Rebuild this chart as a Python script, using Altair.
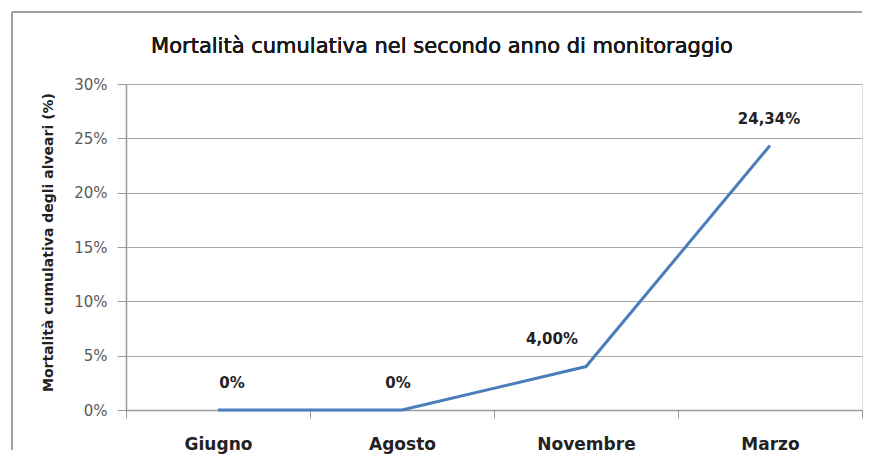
import altair as alt
import pandas as pd

months = ["Giugno", "Agosto", "Novembre", "Marzo"]
mortality = [0.0, 0.0, 4.00, 24.34]
labels = ["0%", "0%", "4,00%", "24,34%"]
y_ticks = [0, 5, 10, 15, 20, 25, 30]

title_text = "Mortalità cumulativa nel secondo anno di monitoraggio"
y_title = "Mortalità cumulativa degli alveari (%)"

df = pd.DataFrame({"mese": months, "valore": mortality, "etichetta": labels})

FONT = "DejaVu Sans"
W, H = 736, 326

x_enc = alt.X(
    "mese:N",
    sort=months,
    scale=alt.Scale(paddingInner=0, paddingOuter=0),
    axis=alt.Axis(
        title=None,
        tickBand="extent",
        tickSize=8,
        tickColor="#9a9a9a",
        domainColor="#9a9a9a",
        domainWidth=1.5,
        labelPadding=18,
        labelFont=FONT,
        labelFontSize=17,
        labelFontWeight="bold",
        labelColor="#222222",
        labelAngle=0,
        grid=False,
    ),
)
y_enc = alt.Y(
    "valore:Q",
    scale=alt.Scale(domain=[0, 30], nice=False),
    axis=alt.Axis(
        values=y_ticks,
        labelExpr="datum.value + '%'",
        tickSize=9,
        tickColor="#9a9a9a",
        domainColor="#9a9a9a",
        domainWidth=1.5,
        gridColor="#a8a8a8",
        gridWidth=1.2,
        labelPadding=10,
        labelFont=FONT,
        labelFontSize=15,
        labelColor="#5a5a5a",
        title=y_title,
        titleFont=FONT,
        titleFontSize=14,
        titleFontWeight="bold",
        titleColor="#222222",
        titleAngle=270,
        titleAlign="center",
        titleBaseline="middle",
        titleX=-78,
        titleY=158,
    ),
)

base = alt.Chart(df)

line = base.mark_line(color="#4A7EBB", strokeWidth=3).encode(x=x_enc, y=y_enc)

text_style = dict(font=FONT, fontSize=15, fontWeight="bold", color="#222222")
offsets = {"Giugno": (14, -27), "Agosto": (-4, -27), "Novembre": (-34, -28), "Marzo": (-1, -27)}
text_layers = []
for m in months:
    dx, dy = offsets[m]
    text_layers.append(
        base.transform_filter(alt.datum.mese == m)
        .mark_text(dx=dx, dy=dy, **text_style)
        .encode(x=alt.X("mese:N", sort=months), y="valore:Q", text="etichetta:N")
    )

frame_top = alt.Chart(df).mark_rule(color="#a0a0a0", strokeWidth=2).encode(
    x=alt.value(-114), x2=alt.value(W), y=alt.value(-72)
)
frame_left = alt.Chart(df).mark_rule(color="#a0a0a0", strokeWidth=2).encode(
    x=alt.value(-114), y=alt.value(-72), y2=alt.value(H + 40)
)
title = alt.Chart(df).mark_text(
    font=FONT, fontSize=21, color="#1a1a1a", align="center", baseline="middle"
).encode(x=alt.value(W / 2 - 52), y=alt.value(-37), text=alt.value(title_text))

chart = alt.layer(frame_top, frame_left, title, line, *text_layers).properties(
    width=W,
    height=H,
    autosize=alt.AutoSizeParams(type="none"),
    padding={"left": 118, "top": 76, "right": 4, "bottom": 49},
).configure_view(stroke=None).configure(background="white")

chart.save("out.html", embed_options={"renderer": "svg", "actions": False})
